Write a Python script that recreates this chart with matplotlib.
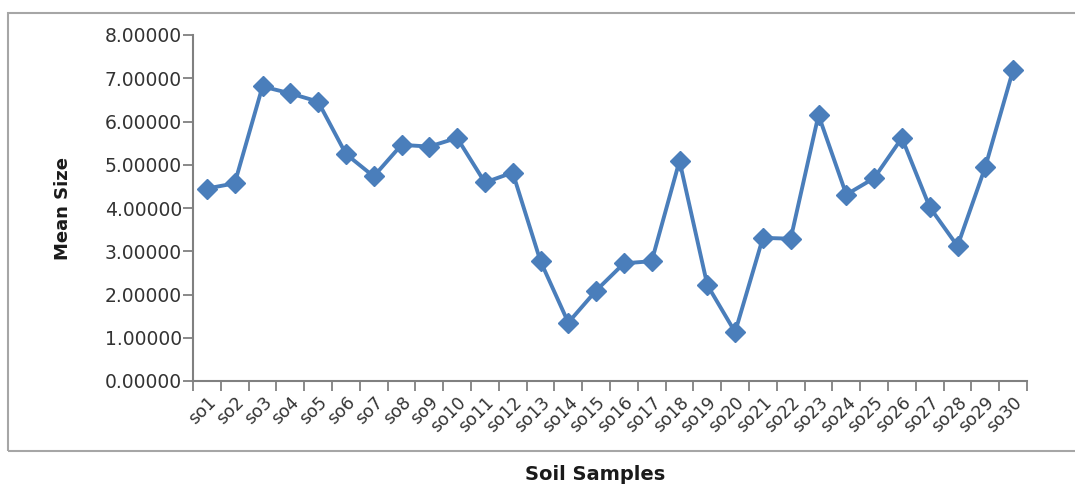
import matplotlib.pyplot as plt
from matplotlib.patches import Rectangle
from matplotlib.ticker import FormatStrFormatter, FixedLocator

samples = ["so%d" % i for i in range(1, 31)]
mean_size = [4.45, 4.57, 6.81, 6.65, 6.46, 5.25, 4.73, 5.46, 5.42, 5.62,
             4.59, 4.82, 2.77, 1.35, 2.09, 2.72, 2.77, 5.09, 2.22, 1.13,
             3.31, 3.29, 6.15, 4.31, 4.69, 5.62, 4.02, 3.12, 4.95, 7.19]

plt.rcParams["font.family"] = ["DejaVu Sans"]

fig = plt.figure(figsize=(10.75, 4.87), dpi=100)
fig.patches.append(Rectangle((8 / 1075, 1 - 451 / 487), 1.0, (451 - 13) / 487,
                             transform=fig.transFigure, fill=False,
                             edgecolor="#a6a6a6", linewidth=1.5))
ax = fig.add_axes([193 / 1075, 1 - 381 / 487, (1027 - 193) / 1075, (381 - 35) / 487])

x = list(range(len(samples)))
ax.plot(x, mean_size, color="#4a7ebb", linewidth=2.8, marker="D",
        markersize=10.5, markerfacecolor="#4a7ebb", markeredgecolor="#4a7ebb")

ax.set_xlim(-0.5, len(samples) - 0.5)
ax.set_ylim(0, 8)
ax.set_yticks(range(0, 9))
ax.yaxis.set_major_formatter(FormatStrFormatter("%.5f"))

ax.set_xticks(x)
ax.set_xticklabels(samples, rotation=45, ha="right", rotation_mode="anchor",
                   fontsize=12.5, color="#333333")
ax.xaxis.set_minor_locator(FixedLocator([i - 0.5 for i in range(len(samples) + 1)]))
ax.tick_params(axis="x", which="major", length=0, pad=9)
ax.tick_params(axis="x", which="minor", length=7, width=1.3, color="#808080")
ax.tick_params(axis="y", length=7, width=1.3, color="#808080",
               labelsize=13.5, labelcolor="#333333", pad=1)

for s in ["top", "right"]:
    ax.spines[s].set_visible(False)
for s in ["left", "bottom"]:
    ax.spines[s].set_color("#808080")
    ax.spines[s].set_linewidth(1.5)

ax.set_ylabel("Mean Size", fontsize=13, fontweight="bold", color="#1a1a1a")
ax.yaxis.set_label_coords((72 - 193) / (1027 - 193), 0.5)
fig.text(595 / 1075, 1 - 474 / 487, "Soil Samples", fontsize=14,
         fontweight="bold", ha="center", va="center", color="#1a1a1a")

fig.savefig("out.png", dpi=100)
